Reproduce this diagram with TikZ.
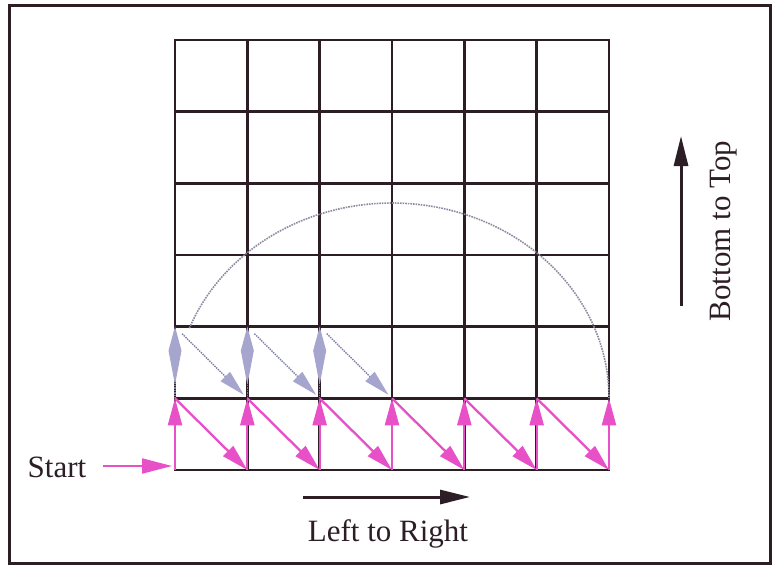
\documentclass[tikz,border=0pt]{standalone}
\usepackage{fontspec}
\setmainfont{Liberation Serif}
\usetikzlibrary{arrows.meta}
\definecolor{gridc}{RGB}{45,30,38}
\definecolor{pinkc}{RGB}{232,80,200}
\definecolor{ghostc}{RGB}{125,125,165}
\definecolor{ghostfill}{RGB}{165,165,205}
\definecolor{arcc}{RGB}{140,140,160}
\begin{document}
\begin{tikzpicture}[x=1pt,y=-1pt,
  gridline/.style={draw=gridc,line width=2.7pt,line cap=rect},
  framebox/.style={draw=gridc,line width=3pt},
  pinkarrow/.style={draw=pinkc,line width=2.3pt,-{Triangle[length=27pt,width=14pt,fill=pinkc]}},
  startarrow/.style={draw=pinkc,line width=2pt,-{Triangle[length=30pt,width=15pt,fill=pinkc]}},
  darkarrow/.style={draw=gridc,line width=3pt,-{Triangle[length=30pt,width=14pt,fill=gridc]}},
  ghostup/.style={draw=ghostc,densely dotted,line width=1.4pt,-{Kite[length=58pt,width=13pt,inset=34pt,fill=ghostfill,color=ghostfill,sep=0pt]}},
  ghostdiag/.style={draw=ghostc,densely dotted,line width=1.4pt,shorten <=10pt,shorten >=5pt,-{Triangle[length=26pt,width=13pt,fill=ghostfill,color=ghostfill]}},
  ghostarc/.style={draw=arcc,densely dotted,line width=1.6pt},
  lab/.style={font=\fontsize{31}{36}\selectfont,text=gridc,inner sep=0pt,anchor=base}
]
\useasboundingbox (0,0) rectangle (773,566);
\fill[white] (0,0) rectangle (773,566);
% frame
\coordinate (fr1) at (9,5);
\coordinate (fr2) at (770,563);
\draw[framebox] (fr1) rectangle (fr2);
% grid points
\foreach \i in {0,...,6}{
  \foreach \j in {0,...,6}{
    \coordinate (g\i-\j) at ({175+72.33*\i},{470-71.67*\j});
  }
}
% grid lines
\foreach \i in {0,...,6}{
  \draw[gridline] (g\i-0) -- (g\i-6);
  \draw[gridline] (g0-\i) -- (g6-\i);
}
% ghost arc
\draw[ghostarc] plot[domain=-159:0,samples=80,smooth] ({392+217*cos(\x)},{398+195*sin(\x)});
% ghost arrows
\foreach \i in {0,1,2}{
  \pgfmathtruncatemacro{\n}{\i+1}
  \draw[ghostup] (g\i-1) -- (g\i-2);
  \draw[ghostdiag] (g\i-2) -- (g\n-1);
}
% pink arrows
\foreach \i in {0,...,6}{
  \draw[pinkarrow] (g\i-0) -- (g\i-1);
}
\foreach \i in {0,...,5}{
  \pgfmathtruncatemacro{\n}{\i+1}
  \draw[pinkarrow] (g\i-1) -- (g\n-0);
}
% start
\node[lab] (start) at (57,477) {Start};
\coordinate (stail) at (103,466);
\coordinate (shead) at (172,466);
\draw[startarrow] (stail) -- (shead);
% left to right
\node[lab] (lr) at (388,541) {Left to Right};
\coordinate (lr1) at (303,497);
\coordinate (lr2) at (470,497);
\draw[darkarrow] (lr1) -- (lr2);
% bottom to top
\node[lab,rotate=90] (bt) at (730,231) {Bottom to Top};
\coordinate (bt1) at (681,306);
\coordinate (bt2) at (681,136);
\draw[darkarrow] (bt1) -- (bt2);
\end{tikzpicture}
\end{document}
